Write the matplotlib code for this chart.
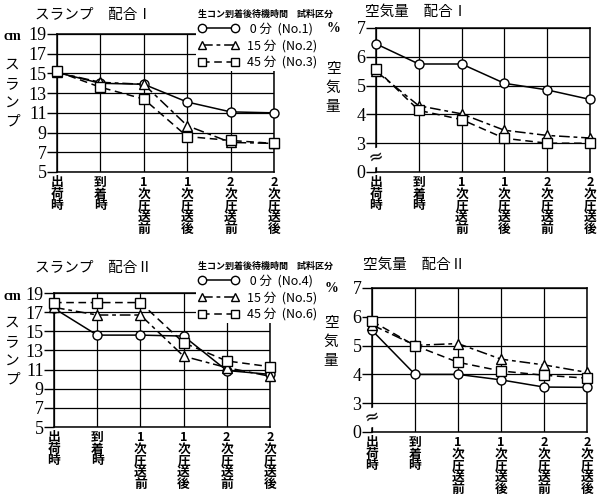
import matplotlib
matplotlib.use("Agg")
import matplotlib.pyplot as plt
from matplotlib.lines import Line2D

plt.rcParams['font.family'] = ['Noto Sans CJK JP', 'DejaVu Sans']

# 区分
categories = ["出荷時", "到着時", "1次圧送前", "1次圧送後", "2次圧送前", "2次圧送後"]
wait_labels = [" 0 分", "15 分", "45 分"]

# スランプ 配合I (cm)
slump1_no1 = [15.1, 14.0, 13.9, 12.1, 11.1, 11.0]
slump1_no2 = [15.1, 14.1, 13.9, 9.7, 8.0, 7.9]
slump1_no3 = [15.2, 13.6, 12.4, 8.6, 8.2, 7.9]

# 空気量 配合I (%)
air1_no1 = [6.45, 5.75, 5.75, 5.08, 4.85, 4.52]
air1_no2 = [5.5, 4.3, 4.02, 3.45, 3.27, 3.18]
air1_no3 = [5.58, 4.14, 3.82, 3.17, 3.0, 3.0]

# スランプ 配合II (cm)
slump2_no4 = [17.4, 14.6, 14.6, 14.5, 10.9, 10.5]
slump2_no5 = [17.5, 16.7, 16.7, 12.4, 11.2, 10.3]
slump2_no6 = [18.0, 18.0, 18.0, 13.8, 11.9, 11.3]

# 空気量 配合II (%)
air2_no4 = [5.53, 4.0, 4.0, 3.81, 3.56, 3.55]
air2_no5 = [5.72, 5.01, 5.07, 4.53, 4.33, 4.07]
air2_no6 = [5.85, 5.0, 4.42, 4.12, 3.97, 3.87]

slump_ticks = [5, 7, 9, 11, 13, 15, 17, 19]
air_ticks = [2, 3, 4, 5, 6, 7]          # 2 の位置に 0 を表示 (軸の省略)
air_tick_labels = ["0", "3", "4", "5", "6", "7"]

W, H = 602, 501
fig = plt.figure(figsize=(W / 100, H / 100), dpi=100)


def rect(x0, x1, y0, y1):
    return [x0 / W, 1 - y1 / H, (x1 - x0) / W, (y1 - y0) / H]


styles = [
    dict(marker='o', linestyle='-'),
    dict(marker='^', linestyle=(0, (7, 2.5, 2.5, 2.5))),
    dict(marker='s', linestyle=(0, (5, 3))),
]


def panel(r, series, ylim, ticks, ticklabels):
    ax = fig.add_axes(r)
    x = list(range(len(categories)))
    for s, st in zip(series, styles):
        ax.plot(x, s, color='black', lw=1.1, markersize=6.5,
                markerfacecolor='white', markeredgecolor='black',
                markeredgewidth=1.0, zorder=3, clip_on=False, **st)
    ax.set_xlim(0, len(categories) - 1)
    ax.set_ylim(*ylim)
    ax.set_yticks(ticks)
    ax.set_yticklabels(ticklabels, family='Liberation Serif', fontsize=13)
    ax.set_xticks(x)
    ax.set_xticklabels(["\n".join(c) for c in categories], fontsize=9.2,
                       fontweight='bold', va='top', linespacing=0.86)
    ax.tick_params(axis='y', direction='out', length=7, width=1, pad=0.5)
    ax.tick_params(axis='x', length=0, pad=3)
    ax.grid(True, color='black', lw=0.9)
    for sp in ax.spines.values():
        sp.set_linewidth(1.1)
    return ax


ax1 = panel(rect(57, 274, 34, 172), [slump1_no1, slump1_no2, slump1_no3],
            (5, 19), slump_ticks, [str(t) for t in slump_ticks])
ax2 = panel(rect(376, 590, 28, 172), [air1_no1, air1_no2, air1_no3],
            (2, 7), air_ticks, air_tick_labels)
ax3 = panel(rect(54, 270, 293, 427), [slump2_no4, slump2_no5, slump2_no6],
            (5, 19), slump_ticks, [str(t) for t in slump_ticks])
ax4 = panel(rect(372, 587, 288, 432), [air2_no4, air2_no5, air2_no6],
            (2, 7), air_ticks, air_tick_labels)

for ax in (ax2, ax4):
    ax.text(0, 2.5, "≈", ha='center', va='center', fontsize=13,
            family='DejaVu Sans', rotation=15,
            bbox=dict(fc='white', ec='none', pad=0.3), zorder=5)

# タイトル・軸ラベル
fig.text(35 / W, 1 - 15 / H, "スランプ　配合Ⅰ", fontsize=10.5, va='center')
fig.text(365 / W, 1 - 12 / H, "空気量　配合Ⅰ", fontsize=10.5, va='center')
fig.text(35 / W, 1 - 268 / H, "スランプ　配合Ⅱ", fontsize=10.5, va='center')
fig.text(363 / W, 1 - 265 / H, "空気量　配合Ⅱ", fontsize=10.5, va='center')

for (cx, cy, u, lab, ly) in [(12, 37, "cm", "スランプ", 58),
                             (333, 28, "%", "空気量", 62),
                             (12, 296, "cm", "スランプ", 316),
                             (331, 288, "%", "空気量", 316)]:
    fig.text(cx / W, 1 - cy / H, u, fontsize=10, ha='center', va='center',
             family='Liberation Serif', fontweight='bold')
    fig.text(cx / W, 1 - ly / H, "\n".join(lab), fontsize=10.5, ha='center',
             va='top', linespacing=1.45)

# 凡例
for ax, nos, y0 in [(ax1, ["No.1", "No.2", "No.3"], 7),
                    (ax3, ["No.4", "No.5", "No.6"], 259)]:
    handles = [Line2D([], [], color='black', lw=1.1, markersize=6,
                      markerfacecolor='white', markeredgecolor='black', **st)
               for st in styles]
    labels = [f"{w}  ({n})" for w, n in zip(wait_labels, nos)]
    leg = ax.legend(handles, labels, numpoints=2, handlelength=3.2,
                    fontsize=9, title="生コン到着後待機時間　試料区分",
                    title_fontsize=6.5, alignment='left',
                    loc='upper left', bbox_to_anchor=(196 / W, 1 - y0 / H),
                    bbox_transform=fig.transFigure, frameon=True,
                    framealpha=1, facecolor='white', edgecolor='none',
                    borderpad=0.2, labelspacing=0.3, handletextpad=0.7,
                    borderaxespad=0)
    leg.set_zorder(10)
    leg.get_title().set_fontweight('bold')

fig.savefig("out.png", dpi=100, facecolor='white')
